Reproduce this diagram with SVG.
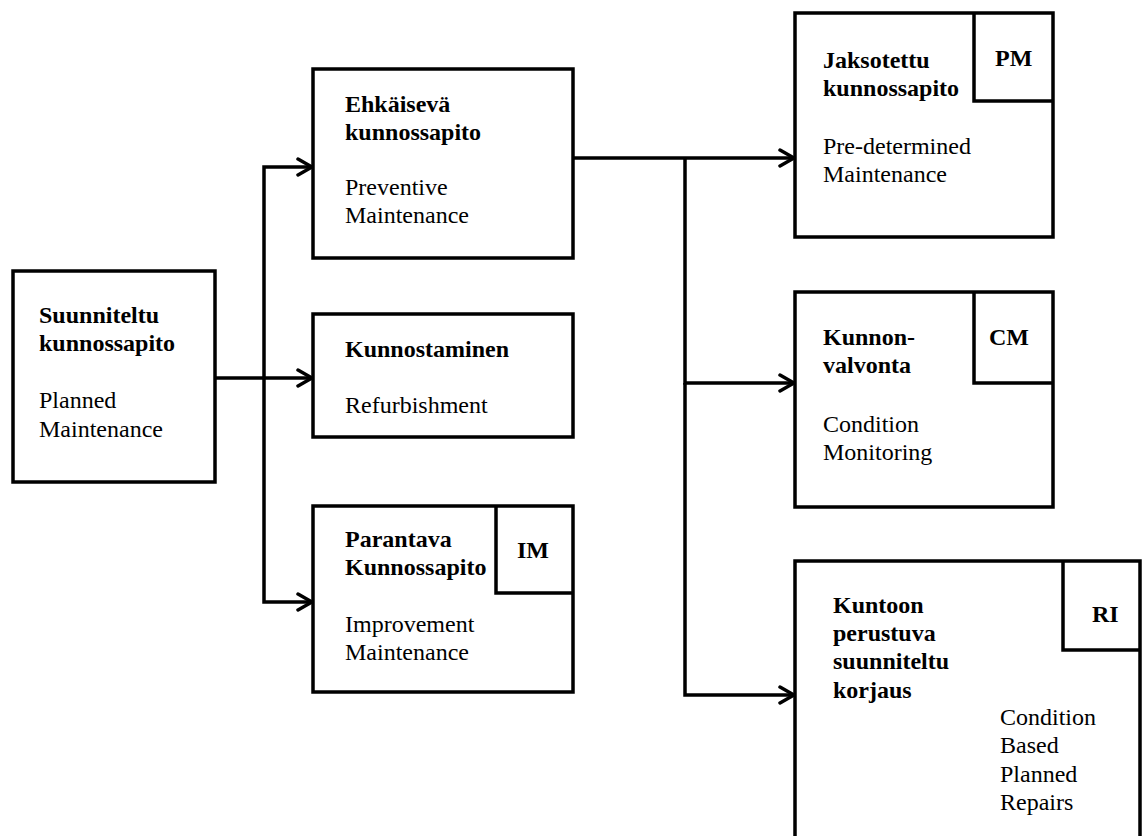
<svg xmlns="http://www.w3.org/2000/svg" width="1143" height="836" viewBox="0 0 1143 836">
<style>
.box{fill:#fff;stroke:#000;stroke-width:3.5;stroke-linejoin:miter}
.tag{fill:none;stroke:#000;stroke-width:3.5}
.b{font-family:"Liberation Serif","Times New Roman",serif;font-size:24px;font-weight:bold;fill:#000}
.r{font-family:"Liberation Serif","Times New Roman",serif;font-size:24px;fill:#000}
.c{fill:none;stroke:#000;stroke-width:3.5;stroke-linejoin:miter}
</style>
<defs>
<marker id="arr" markerUnits="userSpaceOnUse" viewBox="0 0 20 20" markerWidth="20" markerHeight="20" refX="17" refY="10" orient="auto">
<path d="M3,2 L17,10 L3,18" fill="none" stroke="#000" stroke-width="3.5" stroke-linecap="round" stroke-linejoin="miter"/>
</marker>
</defs>
<rect width="1143" height="836" fill="#fff"/>
<g id="connectors">
<path class="c" d="M215,378 H312" marker-end="url(#arr)"/>
<path class="c" d="M264,378 V167 H312" marker-end="url(#arr)"/>
<path class="c" d="M264,378 V602 H312" marker-end="url(#arr)"/>
<path class="c" d="M573,158 H794" marker-end="url(#arr)"/>
<path class="c" d="M685,158 V383 H794" marker-end="url(#arr)"/>
<path class="c" d="M685,383 V695 H794" marker-end="url(#arr)"/>
</g>
<g id="suunniteltu">
<rect class="box" x="13" y="271" width="202" height="211"/>
<text class="b" x="39" y="323">Suunniteltu</text>
<text class="b" x="39" y="351">kunnossapito</text>
<text class="r" x="39" y="408">Planned</text>
<text class="r" x="39" y="437">Maintenance</text>
</g>
<g id="ehkaiseva">
<rect class="box" x="313" y="69" width="260" height="189"/>
<text class="b" x="345" y="112">Ehkäisevä</text>
<text class="b" x="345" y="140">kunnossapito</text>
<text class="r" x="345" y="195">Preventive</text>
<text class="r" x="345" y="223">Maintenance</text>
</g>
<g id="kunnostaminen">
<rect class="box" x="313" y="314" width="260" height="123"/>
<text class="b" x="345" y="357">Kunnostaminen</text>
<text class="r" x="345" y="413">Refurbishment</text>
</g>
<g id="parantava">
<rect class="box" x="313" y="506" width="260" height="186"/>
<path class="tag" d="M496,506 V593 H573"/>
<text class="b" x="345" y="547">Parantava</text>
<text class="b" x="345" y="575">Kunnossapito</text>
<text class="b" x="517" y="558">IM</text>
<text class="r" x="345" y="632">Improvement</text>
<text class="r" x="345" y="660">Maintenance</text>
</g>
<g id="jaksotettu">
<rect class="box" x="795" y="13" width="258" height="224"/>
<path class="tag" d="M974,13 V101 H1053"/>
<text class="b" x="823" y="68">Jaksotettu</text>
<text class="b" x="823" y="96">kunnossapito</text>
<text class="b" x="995" y="66">PM</text>
<text class="r" x="823" y="154">Pre-determined</text>
<text class="r" x="823" y="182">Maintenance</text>
</g>
<g id="kunnonvalvonta">
<rect class="box" x="795" y="292" width="258" height="215"/>
<path class="tag" d="M974,292 V383 H1053"/>
<text class="b" x="823" y="345">Kunnon-</text>
<text class="b" x="823" y="373">valvonta</text>
<text class="b" x="989" y="345">CM</text>
<text class="r" x="823" y="432">Condition</text>
<text class="r" x="823" y="460">Monitoring</text>
</g>
<g id="kuntoon">
<rect class="box" x="795" y="561" width="345" height="300"/>
<path class="tag" d="M1063,561 V650 H1140"/>
<text class="b" x="833" y="613">Kuntoon</text>
<text class="b" x="833" y="641">perustuva</text>
<text class="b" x="833" y="669">suunniteltu</text>
<text class="b" x="833" y="698">korjaus</text>
<text class="b" x="1092" y="622">RI</text>
<text class="r" x="1000" y="725">Condition</text>
<text class="r" x="1000" y="753">Based</text>
<text class="r" x="1000" y="782">Planned</text>
<text class="r" x="1000" y="810">Repairs</text>
</g>
</svg>
